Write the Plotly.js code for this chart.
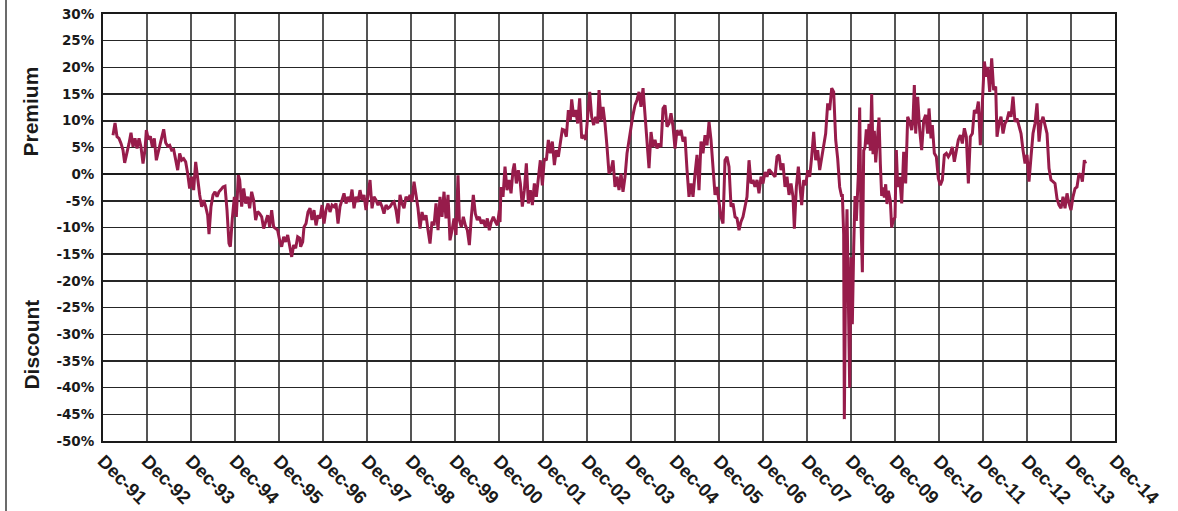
<!DOCTYPE html>
<html>
<head>
<meta charset="utf-8">
<script src="https://cdn.plot.ly/plotly-3.0.1.min.js"></script>
<style>
  html, body { margin: 0; padding: 0; background: #fff; }
  #chart { width: 1178px; height: 511px; }
  #frame { position: absolute; left: 5px; top: 0; width: 2px; height: 511px; background: #6b6b6b; }
</style>
</head>
<body>
<div id="chart"></div>
<div id="frame"></div>
<script>
// Decimal year of each observation (Dec-91 = 1991.917)
const dateYears = [
  1992.144,1992.19,1992.235,1992.28,1992.326,1992.371,1992.409,1992.462,1992.508,1992.553,
  1992.599,1992.644,1992.69,1992.735,1992.78,1992.826,1992.871,1992.902,1992.947,1992.993,
  1993.038,1993.083,1993.129,1993.174,1993.22,1993.265,1993.296,1993.341,1993.386,1993.432,
  1993.477,1993.523,1993.568,1993.614,1993.659,1993.705,1993.75,1993.795,1993.841,1993.886,
  1993.932,1993.977,1994.023,1994.068,1994.114,1994.159,1994.205,1994.25,1994.295,1994.326,
  1994.371,1994.417,1994.462,1994.508,1994.553,1994.598,1994.644,1994.689,1994.735,1994.78,
  1994.811,1994.856,1994.902,1994.947,1994.992,1995.023,1995.068,1995.114,1995.159,1995.205,
  1995.25,1995.295,1995.341,1995.386,1995.432,1995.477,1995.523,1995.568,1995.614,1995.659,
  1995.705,1995.75,1995.795,1995.841,1995.886,1995.932,1995.977,1996.023,1996.068,1996.114,
  1996.159,1996.205,1996.25,1996.295,1996.341,1996.386,
  1996.409,1996.455,1996.485,1996.531,1996.576,1996.622,1996.667,1996.712,1996.758,1996.803,
  1996.849,1996.894,1996.94,1996.985,1997.031,1997.076,1997.122,1997.167,1997.212,1997.258,
  1997.303,1997.349,1997.394,1997.44,1997.485,1997.531,1997.576,1997.622,1997.667,1997.712,
  1997.758,1997.803,1997.849,1997.894,1997.94,1997.985,1998.031,1998.076,1998.122,1998.167,
  1998.212,1998.258,1998.303,1998.349,1998.394,1998.44,1998.485,1998.531,1998.576,1998.622,
  1998.667,1998.712,1998.758,1998.803,1998.849,1998.894,1998.94,1998.985,1999.031,1999.076,
  1999.122,1999.167,1999.212,1999.258,1999.303,1999.349,1999.394,1999.44,1999.485,1999.531,
  1999.576,1999.622,1999.667,1999.712,1999.758,1999.803,1999.849,1999.894,1999.94,1999.985,
  2000.015,2000.061,2000.106,2000.152,2000.197,2000.243,2000.288,2000.333,2000.379,2000.424,
  2000.47,2000.515,2000.561,2000.606,2000.652,2000.697,2000.742,2000.788,2000.833,2000.879,
  2000.925,2000.94,
  2000.962,2001.008,2001.053,2001.099,2001.144,2001.19,2001.235,2001.265,2001.311,2001.356,
  2001.402,2001.447,2001.493,2001.538,2001.584,2001.629,2001.675,2001.72,2001.765,2001.811,
  2001.856,2001.902,2001.947,2001.993,2002.038,2002.084,2002.129,2002.175,2002.22,2002.265,
  2002.311,2002.356,2002.402,2002.447,2002.493,2002.538,2002.569,2002.614,2002.659,2002.705,
  2002.75,2002.796,2002.841,2002.887,2002.932,2002.978,2003.023,2003.069,2003.114,2003.159,
  2003.19,2003.235,2003.281,2003.326,2003.372,2003.417,2003.462,2003.508,2003.553,2003.599,
  2003.644,2003.69,2003.735,2003.781,2003.826,2003.872,2003.917,2003.962,2004.008,2004.053,
  2004.099,2004.144,2004.19,2004.235,2004.281,2004.326,2004.372,2004.417,2004.462,2004.508,
  2004.553,2004.599,2004.644,2004.69,2004.735,2004.781,2004.826,2004.872,2004.917,2004.962,
  2005.008,2005.053,2005.099,2005.144,2005.19,2005.235,2005.281,2005.326,2005.372,2005.417,
  2005.462,
  2005.508,2005.553,2005.599,2005.644,2005.69,2005.735,2005.781,2005.826,2005.872,2005.917,
  2005.962,2006.008,2006.053,2006.099,2006.144,2006.19,2006.235,2006.281,2006.326,2006.372,
  2006.417,2006.462,2006.508,2006.553,2006.599,2006.644,2006.69,2006.735,2006.781,2006.826,
  2006.872,2006.917,2006.962,2007.008,2007.053,2007.099,2007.144,2007.19,2007.235,2007.281,
  2007.326,2007.372,2007.417,2007.462,2007.508,2007.553,2007.599,2007.629,2007.675,2007.72,
  2007.765,2007.796,2007.841,2007.887,2007.932,2007.978,2008.023,2008.069,2008.114,2008.159,
  2008.205,2008.25,2008.296,2008.341,2008.387,2008.432,2008.478,2008.523,2008.569,2008.614,
  2008.659,2008.705,
  2008.72,2008.75,2008.765,2008.796,2008.826,2008.856,2008.887,2008.917,2008.947,2008.978,
  2009.008,2009.038,2009.084,2009.114,2009.144,2009.175,2009.205,2009.235,2009.265,2009.296,
  2009.326,2009.356,2009.387,2009.417,2009.447,2009.478,2009.523,2009.553,2009.584,2009.614,
  2009.644,2009.675,2009.705,2009.735,2009.765,2009.811,2009.841,2009.872,2009.917,
  2009.947,2009.978,2010.023,2010.069,2010.114,2010.159,2010.205,2010.25,2010.296,2010.326,
  2010.356,2010.387,2010.432,2010.478,2010.523,2010.569,2010.614,2010.659,2010.69,2010.735,
  2010.765,2010.811,2010.856,2010.902,2010.947,2010.993,2011.038,2011.084,2011.129,2011.175,
  2011.22,2011.265,2011.311,2011.356,2011.402,2011.447,2011.493,2011.538,2011.584,2011.629,
  2011.675,2011.72,2011.765,2011.811,2011.856,2011.902,2011.947,2011.993,2012.023,2012.069,
  2012.114,2012.159,2012.205,2012.235,2012.281,2012.326,2012.372,2012.417,2012.462,2012.508,
  2012.553,2012.599,2012.644,2012.69,2012.735,2012.781,2012.826,2012.872,2012.917,2012.962,
  2013.008,2013.053,2013.099,2013.144,2013.19,2013.235,2013.281,2013.326,2013.372,2013.417,
  2013.462,2013.508,2013.553,2013.599,2013.644,2013.69,2013.735,2013.781,2013.826,2013.872,
  2013.917,2013.962,2014.008,2014.053,2014.099,2014.144,2014.175,2014.22,2014.25
];

// Premium (+) / discount (-) in percent
const premiumPct = [
  7.3,9.6,7,6.7,5.75,4.5,2.1,3.9,5.75,7.75,
  5.1,6.7,4.8,6.7,5.1,2,4.5,8.25,6.5,7.1,
  5.1,6.7,2.6,4.2,5.75,7.1,8.4,5.9,5.25,5.4,
  4.5,4.6,2.3,0.75,3.9,2.6,2.9,2.3,0.1,-2.7,
  -0.5,-3,2.3,-1.1,-3.9,-6.1,-4.9,-6.1,-7.7,-11.25,
  -6.1,-3.9,-3.3,-4.25,-3.3,-2.9,-2.4,-2.25,-6.75,-13,
  -13.6,-8.3,-4.25,-8,-0.2,-1.1,-6.1,-2.7,-5.5,-4.25,
  -6.4,-3.3,-4.9,-8.6,-7,-7.4,-8,-10.2,-8.9,-7.7,
  -9.9,-6.75,-9.9,-10.2,-10.5,-12.4,-13.6,-11.75,-12.7,-11.4,
  -13.6,-15.5,-13.3,-13.9,-11.75,-12,
  -13.6,-12.7,-9.9,-9.25,-7.1,-6.4,-8.6,-6.75,-9.6,-7.7,
  -8.3,-5.8,-9.25,-6.75,-5.5,-7.1,-5.8,-6.1,-5.5,-9.25,
  -6.1,-4.9,-3.6,-5.5,-4.25,-5.2,-2.9,-6.4,-4.25,-5.2,
  -3,-4.9,-3.9,-6.75,-4.25,-1.1,-6.4,-4.25,-4.9,-5.8,
  -5.2,-6.1,-7.4,-5.8,-6.4,-6.1,-5.5,-5.2,-6.75,-9.25,
  -3.9,-5.5,-6.4,-4.25,-4.9,-3.9,-5.2,-1.4,-3.9,-6.4,
  -10.2,-7.1,-8.6,-7.7,-10.5,-13,-8.9,-9.6,-5.5,-10.5,
  -4.25,-8,-3.3,-8.3,-3.9,-12.4,-10.5,-8.3,-11.4,-0.2,
  -8.6,-9.9,-8,-9.6,-10.5,-13.3,-8,-3.9,-7.4,-8.6,
  -8,-9.25,-8.6,-9.9,-8.3,-10.5,-8.9,-8,-8.9,-9.6,
  -6.75,-9,
  -2.4,-4.25,1.4,-3,-1.1,-3.6,0.75,2,-1.75,0.75,
  -1.75,-6.1,-3,2,-5.5,-3,-5.8,-1.75,-4.25,-0.5,
  2.6,-2.1,2.9,2.6,6.4,3.9,6.1,1.7,4.5,3.25,
  6.1,8.4,8.25,7,12,10.1,14,10.75,12,9.5,
  14.2,6.7,7.3,6.4,10.75,15.4,10.75,9.2,10.75,9.5,
  15.75,10.1,12.6,9.5,5.1,0.1,0.75,2.6,-2.4,-0.5,
  -3,0.1,-3.3,-0.5,3.9,6.4,8.9,11.1,12.9,13.9,
  15.4,12.6,16.1,11.4,6.4,1.1,7.9,5.1,6.4,4.8,
  5.75,5.1,12.3,12.9,8.9,9.5,11.4,8.9,4.8,8.25,
  7.3,8.25,6.1,7,0.75,-4.25,-1.75,-4.25,0.1,3.6,
  -3,
  6.1,3.9,7.3,5.4,9.8,6.4,1.4,-3.9,-2.4,-4.9,
  -8,-9.25,2.6,3.25,1.4,-6.1,-5.5,-8,-8.3,-10.5,
  -8.9,-8,-6.4,-4.25,2.6,-1.75,-1.1,-2.4,-1.1,-3.6,
  -0.5,-1.75,0.4,-0.5,0.9,0.4,0.1,-0.5,3.25,3.6,
  0.75,2,-2.4,-0.5,-3.9,-1.75,-4.25,-10.2,-2.4,1.4,
  -3,-5.8,-1.1,-2.1,0.75,-0.5,3.25,7.9,2.6,4.5,
  0.75,3.25,5.75,7.6,13.25,12,16.1,15.4,6.4,2.9,
  -2.4,-4.25,
  -3.75,-11.25,-45.9,-17.5,-6.6,-20,-40,-15.6,-28.1,-13.75,
  -4.1,-8.75,0,12.5,-8.75,-18.4,4.4,5,8.4,5.6,
  9.4,4.4,15,3.75,8.1,2.2,7.5,10.6,1.9,-4.1,
  -2.5,-4.4,-1.9,-5.6,-3.1,-5,-10,-8.75,-8.1,
  4.5,-2.4,-0.5,-5.5,4.2,-1.75,10.75,9.8,8.25,10.1,
  16.7,7.6,14.5,8.25,4.5,10.1,11.1,7.6,12.3,6.7,
  9.2,3.9,3.25,-0.8,-2.1,-1.1,3.6,3.9,3.25,3.9,
  5.1,2.3,4.5,6.4,7.3,5.75,8.6,7,-1.75,7,
  7.6,12,11.4,13.6,5.4,12.6,21.1,18.25,20.1,15.4,
  21.7,15.75,16.4,7,9.5,10.75,7.6,9.5,10.1,11.7,
  10.75,14.5,9.8,10.4,8.9,7.6,4.5,2,3.6,-1.4,
  3.25,7.6,9.5,13.25,6.1,9.5,10.75,8.9,7.6,1.1,
  -1.1,-1.4,-1.75,-4.6,-5.8,-6.4,-4.25,-6.4,-3.6,-5.5,
  -6.75,-4.25,-2.7,-2.4,0.1,-0.2,-1.4,2.6,2
];

// Axis tick labels (one per December)
const tickYears = [1991,1992,1993,1994,1995,1996,1997,1998,1999,2000,2001,2002,
                   2003,2004,2005,2006,2007,2008,2009,2010,2011,2012,2013,2014];
const tickLabels = ["Dec-91","Dec-92","Dec-93","Dec-94","Dec-95","Dec-96","Dec-97","Dec-98",
                    "Dec-99","Dec-00","Dec-01","Dec-02","Dec-03","Dec-04","Dec-05","Dec-06",
                    "Dec-07","Dec-08","Dec-09","Dec-10","Dec-11","Dec-12","Dec-13","Dec-14"];
const yTicks = [30,25,20,15,10,5,0,-5,-10,-15,-20,-25,-30,-35,-40,-45,-50];

const decTickVals = tickYears.map(y => y + 11/12);

const trace = {
  x: dateYears,
  y: premiumPct,
  type: 'scatter',
  mode: 'lines',
  line: { color: '#971c4b', width: 3 },
  hoverinfo: 'x+y'
};

const layout = {
  width: 1178,
  height: 511,
  margin: { l: 103, r: 63, t: 14, b: 70 },
  paper_bgcolor: '#ffffff',
  plot_bgcolor: '#ffffff',
  showlegend: false,
  xaxis: {
    range: [decTickVals[0], decTickVals[decTickVals.length - 1]],
    tickmode: 'array',
    tickvals: decTickVals,
    ticktext: tickLabels,
    tickangle: 45,
    tickfont: { family: 'Liberation Sans, Arial, sans-serif', size: 18.5, color: '#1a1a1a', weight: 'bold' },
    showgrid: true,
    gridcolor: '#555555',
    gridwidth: 1.5,
    showline: true,
    linecolor: '#1a1a1a',
    linewidth: 2,
    mirror: true,
    ticks: '',
    zeroline: false,
    fixedrange: true
  },
  yaxis: {
    range: [-50, 30],
    tickmode: 'array',
    tickvals: yTicks,
    ticktext: yTicks.map(v => v + '%'),
    tickfont: { family: 'DejaVu Sans, sans-serif', size: 13.5, color: '#1a1a1a', weight: 'bold' },
    showgrid: true,
    gridcolor: '#262626',
    gridwidth: 1.5,
    zeroline: true,
    zerolinecolor: '#1a1a1a',
    zerolinewidth: 2,
    showline: true,
    linecolor: '#1a1a1a',
    linewidth: 2,
    mirror: true,
    ticks: '',
    ticklabelstandoff: 4,
    fixedrange: true
  },
  annotations: [
    { text: 'Premium', xref: 'paper', yref: 'paper', x: -0.0716, y: 0.7705,
      textangle: -90, showarrow: false, xanchor: 'center', yanchor: 'middle',
      font: { family: 'Liberation Sans, Arial, sans-serif', size: 21, color: '#1a1a1a', weight: 'bold' } },
    { text: 'Discount', xref: 'paper', yref: 'paper', x: -0.0716, y: 0.2248,
      textangle: -90, showarrow: false, xanchor: 'center', yanchor: 'middle',
      font: { family: 'Liberation Sans, Arial, sans-serif', size: 21, color: '#1a1a1a', weight: 'bold' } }
  ]
};

Plotly.newPlot('chart', [trace], layout, { displayModeBar: false, staticPlot: true });
</script>
</body>
</html>
